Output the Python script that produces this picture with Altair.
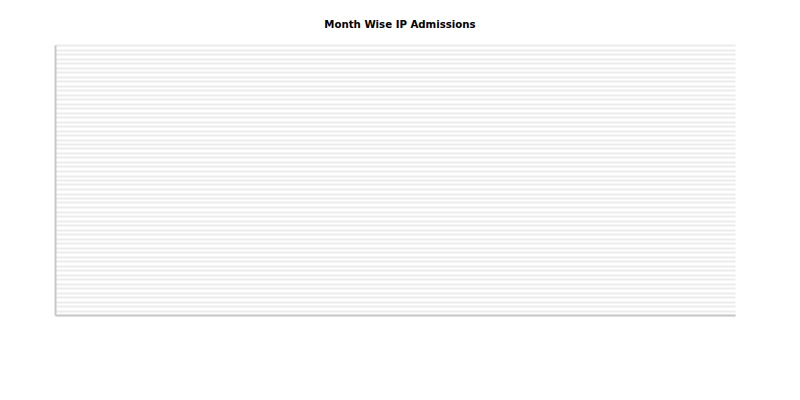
import altair as alt
import pandas as pd

months = []
admissions = []
y_ticks = list(range(0, 61))

df = pd.DataFrame({"Month": pd.Series(months, dtype="object"),
                   "Admissions": pd.Series(admissions, dtype="float")})

chart = alt.Chart(df).mark_bar(color="#4e79a7").encode(
    x=alt.X("Month:N", axis=alt.Axis(labels=False, ticks=False, title=None,
                                     domainColor="#c8c8c8", domainWidth=2),
            scale=alt.Scale(domain=["-"])),
    y=alt.Y("Admissions:Q", scale=alt.Scale(domain=[0, 60], nice=False),
            axis=alt.Axis(values=y_ticks, labels=False, ticks=False, title=None,
                          grid=True, gridColor="#ececec", gridWidth=2,
                          domainColor="#c8c8c8", domainWidth=2)),
).properties(
    width=680, height=270,
    title=alt.TitleParams("Month Wise IP Admissions", font="DejaVu Sans",
                          fontSize=10.2, fontWeight="bold", color="#000000",
                          anchor="middle", offset=15, dx=5),
    autosize=alt.AutoSizeParams(type="none"),
    padding={"left": 55, "top": 45, "right": 65, "bottom": 85},
).configure_view(stroke=None)

chart.save("out.html", embed_options={"renderer": "svg", "actions": False})
